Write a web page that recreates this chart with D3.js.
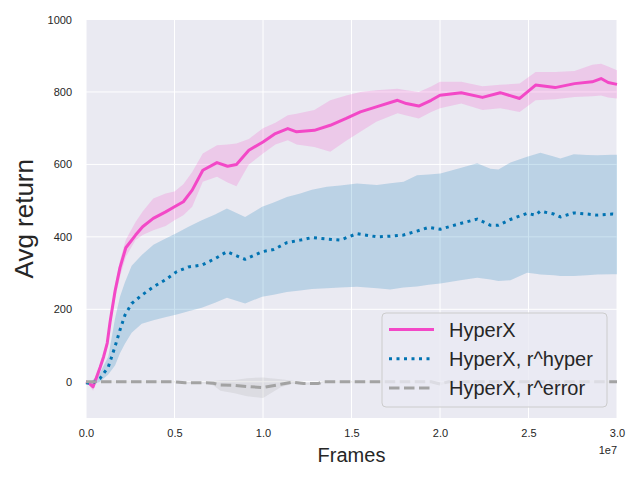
<!DOCTYPE html>
<html>
<head>
<meta charset="utf-8">
<script src="https://cdn.jsdelivr.net/npm/d3@7"></script>
<style>
  body { margin: 0; background: #fff; }
  text { font-family: "Liberation Sans", Arial, sans-serif; fill: #262626; }
</style>
</head>
<body>
<svg id="chart"></svg>
<script>
const WIDTH = 640;
const HEIGHT = 480;
const MARGIN = { top: 19.5, right: 23, bottom: 62, left: 86 };

// frames in millions
const hyperX_x = [0, 0.15, 0.4, 0.8, 1.0, 1.2, 1.36, 1.64, 1.92, 2.25, 2.8, 3.2, 3.8, 4.5, 5, 5.5, 6, 6.6, 7.4, 8, 8.5, 9.2, 10, 10.7, 11.4, 11.9, 12.9, 13.8, 14.7, 15.5, 16.4, 17.6, 18.1, 18.8, 19.5, 20, 21.2, 22.4, 23.4, 24.5, 25.4, 26.5, 27.6, 28.6, 29.1, 29.5, 30];
const hyperX_mean = [0, -3, -14, 40, 70, 107, 165, 250, 315, 370, 405, 428, 451, 469, 483, 497, 529, 584, 605, 595, 600, 639, 662, 685, 699, 690, 694, 708, 727, 745, 759, 777, 768, 761, 777, 791, 798, 785, 798, 782, 819, 812, 823, 828, 837, 826, 821];
const hyperX_lo = [-3, -8, -25, 30, 60, 95, 150, 230, 290, 345, 391, 405, 418, 430, 446, 460, 483, 552, 566, 550, 540, 600, 630, 655, 667, 655, 648, 635, 665, 690, 718, 741, 735, 727, 745, 755, 768, 750, 755, 745, 777, 780, 786, 788, 790, 785, 782];
const hyperX_hi = [3, 2, -5, 50, 82, 120, 180, 268, 335, 392, 441, 470, 506, 520, 525, 545, 579, 630, 653, 655, 658, 670, 700, 715, 736, 740, 750, 777, 790, 800, 805, 809, 805, 800, 815, 828, 828, 816, 820, 823, 855, 855, 858, 875, 878, 870, 860];

const hyper_x = [0, 0.32, 0.79, 1.26, 1.64, 1.92, 2.2, 2.58, 3.15, 3.81, 4.47, 5.13, 5.79, 6.54, 7.29, 7.96, 8.99, 9.95, 10.6, 11.35, 12.1, 12.76, 13.61, 14.36, 15.31, 16.44, 17.19, 17.94, 18.7, 19.36, 20.02, 21.15, 22.1, 22.85, 23.3, 23.98, 24.92, 25.39, 25.67, 26.43, 26.8, 27.56, 28.31, 28.88, 29.73, 30];
const hyper_mean = [-3, -5, 9, 41, 97, 143, 184, 216, 239, 262, 281, 304, 317, 322, 340, 359, 338, 359, 365, 384, 391, 398, 394, 391, 409, 400, 402, 405, 416, 426, 421, 437, 449, 432, 432, 448, 465, 460, 471, 463, 455, 466, 463, 460, 463, 462];
const hyper_lo = [-3, -8, 0, 20, 45, 79, 105, 135, 160, 170, 178, 186, 195, 204, 218, 232, 216, 235, 240, 248, 252, 256, 258, 260, 262, 258, 255, 260, 263, 268, 271, 280, 287, 282, 278, 280, 301, 298, 296, 294, 292, 292, 294, 296, 297, 297];
const hyper_hi = [0, 2, 25, 70, 175, 235, 275, 320, 350, 378, 395, 411, 428, 446, 462, 478, 455, 483, 495, 510, 520, 530, 538, 542, 547, 543, 548, 552, 570, 572, 575, 590, 603, 588, 586, 605, 621, 628, 632, 622, 616, 628, 626, 625, 627, 627];

const error_x = [0, 5, 5.6, 6.8, 7.2, 7.6, 8.4, 9.1, 10, 11, 11.7, 12.3, 13.1, 13.4, 19.5, 20, 20.5, 30];
const error_mean = [0, 0, -3, -3, -4, -9, -10, -13, -16, -7, -1, -5, -5, 0, 0, -6, 0, 0];
const error_lo = [-2, -2, -5, -5, -10, -25, -32, -40, -45, -15, -5, -8, -8, -2, -2, -10, -2, -2];
const error_hi = [2, 2, 0, 0, 2, 4, 5, 10, 12, 7, 3, -2, -2, 2, 2, -2, 2, 2];

const seriesNames = ["HyperX", "HyperX, r^hyper", "HyperX, r^error"];
const seriesColors = ["#f348c7", "#0173b2", "#a3a3a3"];
const seriesDash = [null, "3,4.5", "10.5,4.5"];

const xTicks = [0, 0.5e7, 1e7, 1.5e7, 2e7, 2.5e7, 3e7];
const yTicks = [0, 200, 400, 600, 800, 1000];

const series = [
  { x: hyperX_x, mean: hyperX_mean, lo: hyperX_lo, hi: hyperX_hi },
  { x: hyper_x, mean: hyper_mean, lo: hyper_lo, hi: hyper_hi },
  { x: error_x, mean: error_mean, lo: error_lo, hi: error_hi },
].map((s, i) => ({
  name: seriesNames[i],
  color: seriesColors[i],
  dash: seriesDash[i],
  points: s.x.map((x, j) => ({ x: x * 1e6, mean: s.mean[j], lo: s.lo[j], hi: s.hi[j] })),
}));

const svg = d3.select("#chart").attr("width", WIDTH).attr("height", HEIGHT);

const x = d3.scaleLinear().domain([0, 3e7]).range([MARGIN.left, WIDTH - MARGIN.right]);
const y = d3.scaleLinear().domain([-100, 1000]).range([HEIGHT - MARGIN.bottom, MARGIN.top]);

svg.append("rect")
  .attr("x", x.range()[0])
  .attr("y", y.range()[1])
  .attr("width", x.range()[1] - x.range()[0])
  .attr("height", y.range()[0] - y.range()[1])
  .attr("fill", "#eaeaf2");

const grid = svg.append("g").attr("class", "grid").attr("stroke", "#fff").attr("stroke-width", 1);
grid.selectAll(".gx")
  .data(xTicks)
  .join("line")
  .attr("x1", (d) => x(d)).attr("x2", (d) => x(d))
  .attr("y1", y.range()[0]).attr("y2", y.range()[1]);
grid.selectAll(".gy")
  .data(yTicks)
  .join("line")
  .attr("y1", (d) => y(d)).attr("y2", (d) => y(d))
  .attr("x1", x.range()[0]).attr("x2", x.range()[1]);

const area = d3.area()
  .x((d) => x(d.x))
  .y0((d) => y(d.lo))
  .y1((d) => y(d.hi));

const line = d3.line()
  .x((d) => x(d.x))
  .y((d) => y(d.mean));

svg.append("g")
  .attr("class", "bands")
  .selectAll("path")
  .data(series)
  .join("path")
  .attr("d", (d) => area(d.points))
  .attr("fill", (d) => d.color)
  .attr("fill-opacity", 0.2);

svg.append("g")
  .attr("class", "lines")
  .selectAll("path")
  .data(series)
  .join("path")
  .attr("d", (d) => line(d.points))
  .attr("fill", "none")
  .attr("stroke", (d) => d.color)
  .attr("stroke-width", 3)
  .attr("stroke-linejoin", "round")
  .attr("stroke-dasharray", (d) => d.dash);

// axes
const xAxis = svg.append("g")
  .attr("transform", `translate(0, ${y.range()[0]})`)
  .call(d3.axisBottom(x).tickValues(xTicks).tickSize(0).tickPadding(11).tickFormat((d) => (d / 1e7).toFixed(1)));
const yAxis = svg.append("g")
  .attr("transform", `translate(${x.range()[0]}, 0)`)
  .call(d3.axisLeft(y).tickValues(yTicks).tickSize(0).tickPadding(14).tickFormat(d3.format("d")));
[xAxis, yAxis].forEach((a) => {
  a.select(".domain").remove();
  a.selectAll("text").attr("font-family", null).attr("font-size", 11).attr("fill", "#262626");
});

svg.append("text")
  .attr("x", x.range()[1])
  .attr("y", 454)
  .attr("text-anchor", "end")
  .attr("font-size", 11)
  .text("1e7");

svg.append("text")
  .attr("x", (x.range()[0] + x.range()[1]) / 2)
  .attr("y", 462)
  .attr("text-anchor", "middle")
  .attr("font-size", 20)
  .text("Frames");

svg.append("text")
  .attr("transform", `translate(33, ${(y.range()[0] + y.range()[1]) / 2}) rotate(-90)`)
  .attr("text-anchor", "middle")
  .attr("font-size", 26)
  .text("Avg return");

// legend
const legend = svg.append("g").attr("class", "legend").attr("transform", "translate(382, 313)");
legend.append("rect")
  .attr("width", 225)
  .attr("height", 94)
  .attr("rx", 4)
  .attr("fill", "#eaeaf2")
  .attr("fill-opacity", 0.8)
  .attr("stroke", "#cccccc")
  .attr("stroke-width", 1);
legend.selectAll(".item")
  .data(series)
  .join((enter) => {
    const g = enter.append("g")
      .attr("class", "item")
      .attr("transform", (_, i) => `translate(0, ${16.5 + i * 29.2})`);
    g.append("line")
      .attr("x1", 7).attr("x2", 52)
      .attr("stroke", (d) => d.color)
      .attr("stroke-width", 3)
      .attr("stroke-dasharray", (d) => d.dash);
    g.append("text")
      .attr("x", 67)
      .attr("dy", "0.35em")
      .attr("font-size", 20)
      .text((d) => d.name);
    return g;
  });
</script>
</body>
</html>
